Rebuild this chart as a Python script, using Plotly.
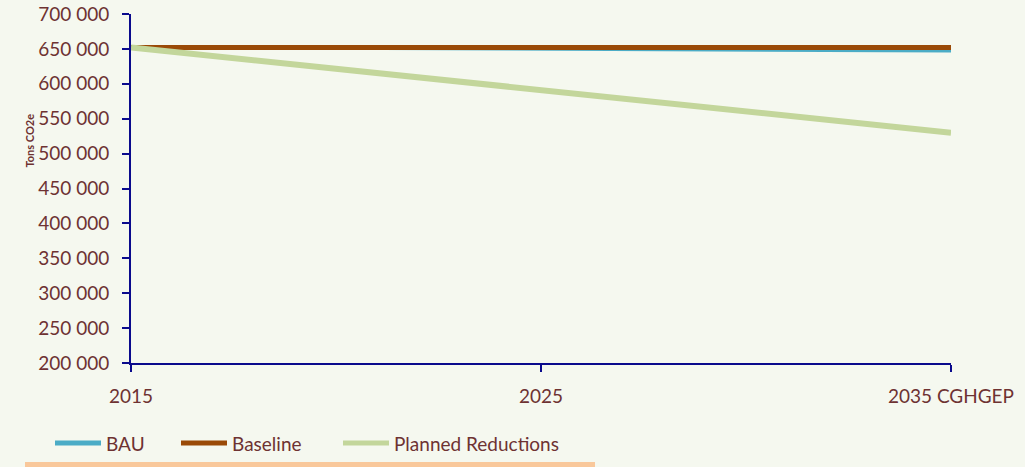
import plotly.graph_objects as go

# Emission pathways, tons CO2e
years = ["2015", "2025", "2035 CGHGEP"]
bau = [652000, 650000, 647000]
baseline = [652000, 652000, 652000]
planned = [652000, 591000, 530000]

y_ticks = [200000, 250000, 300000, 350000, 400000, 450000, 500000,
           550000, 600000, 650000, 700000]
y_tick_text = [f"{v:,}".replace(",", " ") for v in y_ticks]

series = [
    ("BAU", bau, "#4bacc6", 4),
    ("Baseline", baseline, "#9a4a07", 5),
    ("Planned Reductions", planned, "#c3d69b", 6),
]

text_col = "#6e3232"
axis_col = "#0a0a8c"
bg = "#f5f8ef"
font = "Lato"

W, H = 1025, 467
L, R, T, B = 131, 74, 14, 104
pw, ph = W - L - R, H - T - B


def px(xp):
    return (xp - L) / pw


def py(yp):
    return (H - B - yp) / ph


x = list(range(len(years)))

fig = go.Figure()
for name, vals, col, w in series:
    fig.add_trace(go.Scatter(x=x, y=vals, name=name, mode="lines",
                             line=dict(color=col, width=w if name != "BAU" else 3),
                             showlegend=False))

# legend drawn as line samples and labels below the axis
legend_items = [(55, 101, 104), (181, 227, 230), (343, 389, 392)]
shapes = []
annotations = []
for (name, _, col, w), (x0, x1, tx) in zip(series, legend_items):
    shapes.append(dict(type="line", xref="paper", yref="paper",
                       x0=px(x0), x1=px(x1), y0=py(443), y1=py(443),
                       line=dict(color=col, width=5)))
    annotations.append(dict(text=name, xref="paper", yref="paper",
                            x=px(tx), y=py(443), xanchor="left", yanchor="middle",
                            showarrow=False,
                            font=dict(size=19, color=text_col, family=font)))

shapes.append(dict(type="rect", xref="paper", yref="paper",
                   x0=px(25), x1=px(595), y0=py(467), y1=py(462),
                   fillcolor="#f9c89b", line=dict(width=0), layer="below"))
annotations.append(dict(text="<b>Tons CO2e</b>", xref="paper", yref="paper",
                        x=px(20), y=py(140), showarrow=False, textangle=-90,
                        font=dict(size=11, color=text_col, family=font)))

fig.update_layout(
    width=W, height=H,
    margin=dict(l=L, r=R, t=T, b=B),
    paper_bgcolor=bg, plot_bgcolor=bg,
    font=dict(family=font, size=19, color=text_col),
    showlegend=False,
    xaxis=dict(range=[0, 2], tickvals=x, ticktext=years, showgrid=False,
               zeroline=False, showline=True, linecolor=axis_col, linewidth=2,
               ticks="outside", ticklen=7, tickwidth=2, tickcolor=axis_col,
               ticklabelstandoff=8, automargin=False,
               tickfont=dict(size=19, color=text_col)),
    yaxis=dict(range=[200000, 700000], tickvals=y_ticks, ticktext=y_tick_text,
               showgrid=False, zeroline=False, showline=True, linecolor=axis_col,
               linewidth=2, ticks="outside", ticklen=7, tickwidth=2,
               tickcolor=axis_col, ticklabelstandoff=9, automargin=False,
               tickfont=dict(size=19, color=text_col)),
    shapes=shapes,
    annotations=annotations,
)

fig.write_html("out.html")
